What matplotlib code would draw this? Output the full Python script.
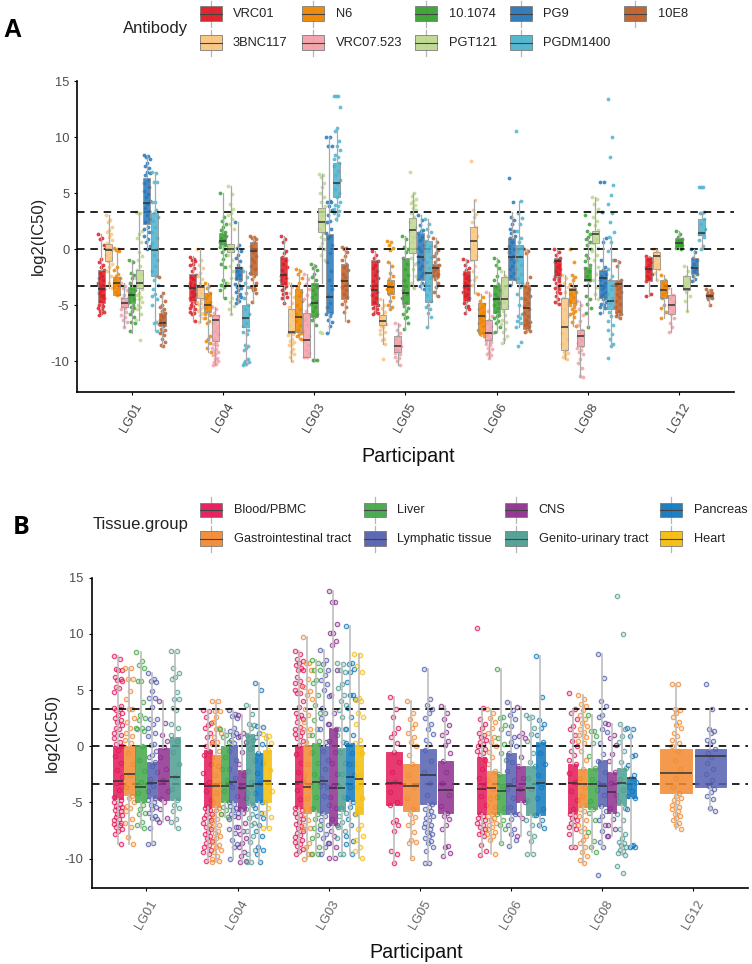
import matplotlib
matplotlib.use('Agg')
import matplotlib.pyplot as plt

plt.rcParams['font.family'] = ['Liberation Sans', 'DejaVu Sans']
plt.rcParams['axes.unicode_minus'] = False

participants = ['LG01', 'LG04', 'LG03', 'LG05', 'LG06', 'LG08', 'LG12']

antibodies = ['VRC01', '3BNC117', 'N6', 'VRC07.523', '10.1074', 'PGT121', 'PG9', 'PGDM1400', '10E8']
antibody_colors = ['#DC1C24', '#FAC57F', '#EE8500', '#F3A1A9', '#38A132', '#BFD88F', '#2877B7', '#4FB3CE', '#BE5F2A']

tissues = ['Blood/PBMC', 'Gastrointestinal tract', 'Liver', 'Lymphatic tissue', 'CNS',
           'Genito-urinary tract', 'Pancreas', 'Heart']
tissue_colors = ['#E21A5A', '#F28A32', '#43A84A', '#5561B0', '#8E3090', '#4F9E92', '#1279BE', '#F5BE0A']

# * box stats: whisker low, q1, median, q3, whisker high
a_lg01_box = [(-5.9, -4.8, -3.6, -1.9, 1.3), (-3.5, -1.1, -0.1, 0.45, 3.0), (-4.1, -4.1, -3.0, -2.5, 0.1),
              (-7.0, -5.2, -4.8, -4.4, -3.0), (-7.5, -4.8, -4.1, -3.4, -1.0), (-6.3, -3.5, -3.0, -1.9, 3.2),
              (0.0, 2.2, 4.1, 6.3, 8.4), (-7.3, -2.4, -0.1, 3.2, 6.9), (-8.7, -6.9, -6.6, -5.7, -4.0)]
a_lg04_box = [(-6.4, -4.6, -3.5, -2.2, -0.6), (-6.5, -4.4, -3.4, -3.3, 0.0), (-9.2, -5.6, -5.0, -3.9, -3.0),
              (-10.4, -8.2, -6.3, -5.9, -5.2), (-4.4, 0.4, 0.7, 1.4, 5.0), (-5.8, -0.3, 0.0, 0.45, 5.6),
              (-4.8, -2.8, -1.7, -1.6, 2.4), (-10.4, -7.0, -6.2, -5.0, -2.0), (-4.7, -2.3, -0.2, 0.6, 1.2)]
a_lg03_box = [(-4.8, -3.2, -2.3, -0.7, 1.2), (-10.0, -7.5, -7.4, -5.4, -3.0), (-8.0, -7.4, -6.1, -3.6, -1.8),
              (-9.6, -9.6, -8.1, -5.7, -2.2), (-10.0, -6.1, -4.8, -3.0, -1.3), (-3.0, 1.5, 2.4, 3.65, 6.7),
              (-7.5, -5.7, -4.3, 1.3, 10.0), (2.5, 4.6, 5.9, 7.7, 10.8), (-6.4, -4.5, -2.9, -1.3, 0.2)]
a_lg05_box = [(-5.8, -5.0, -3.7, -1.0, -0.2), (-8.5, -6.8, -6.4, -5.9, -4.5), (-5.4, -4.0, -3.4, -2.8, -1.2),
              (-10.4, -9.2, -8.7, -7.8, -6.6), (-7.1, -4.9, -3.9, -0.8, 1.2), (-3.5, -0.4, 1.66, 2.76, 5.0),
              (-3.6, -2.8, -0.75, 1.4, 3.0), (-7.0, -4.7, -2.1, 0.75, 2.7), (-4.2, -2.5, -1.7, -1.3, 1.0)]
a_lg06_box = [(-5.7, -4.6, -3.3, -2.0, -0.9), (-3.9, -1.0, 0.75, 2.0, 4.4), (-7.8, -7.5, -6.0, -4.8, -4.0),
              (-9.7, -8.1, -7.5, -6.3, -3.8), (-7.4, -5.7, -4.5, -3.2, -0.8), (-8.4, -5.4, -4.5, -2.5, -2.0),
              (-3.2, -2.8, -0.7, 1.0, 3.3), (-7.0, -3.0, -0.75, 0.4, 4.3), (-7.4, -7.1, -5.3, -3.2, 0.0)]
a_lg08_box = [(-4.9, -2.4, -1.1, -0.8, 0.0), (-9.8, -9.0, -7.0, -4.4, -2.3), (-6.9, -4.8, -3.7, -3.5, -2.3),
              (-11.4, -8.7, -7.8, -7.2, -4.6), (-7.0, -2.9, -2.8, -1.6, 1.0), (-4.5, 0.55, 1.3, 1.6, 4.6),
              (-5.7, -4.4, -2.6, -1.9, 1.0), (-8.7, -5.4, -4.6, -2.8, 1.1), (-6.2, -5.7, -3.1, -2.8, -1.0)]
a_lg12_box = [(-4.2, -2.9, -1.8, -0.7, -0.6), (-2.8, -1.8, -0.6, -0.25, 0.0), (-6.2, -4.4, -3.7, -2.8, -2.3),
              (-7.4, -5.8, -5.0, -4.1, -3.5), (0.0, 0.2, 0.55, 0.95, 1.6), (-5.5, -3.7, -3.6, -2.4, -1.5),
              (-2.9, -2.2, -1.7, -0.8, 0.0), (0.0, 1.25, 1.4, 2.7, 3.3), (-5.0, -4.4, -4.2, -3.9, -3.6)]

a_lg01_pts = [
    [1.3, 1.0, 0.9, 0.4, -0.9, -1.2, -1.4, -1.6, -1.9, -2.1, -2.4, -2.6, -2.8, -3.0, -3.2, -3.4, -3.6, -3.7, -3.9, -4.1, -4.2, -4.4, -4.6, -4.8, -5.0, -5.1, -5.3, -5.4, -5.5, -5.6, -5.7, -5.9],
    [3.0, 2.6, 2.4, 2.0, 1.7, 1.5, 1.3, 1.1, 0.8, 0.5, 0.3, 0.1, -0.2, -0.5, -0.8, -1.1, -1.3, -1.6, -2.0, -2.4, -3.0, -3.5],
    [0.1, 0.0, -0.1, -0.2, -1.6, -1.9, -2.2, -2.4, -2.6, -2.8, -3.0, -3.1, -3.3, -3.4, -3.6, -3.8, -4.0, -4.1],
    [-3.0, -3.3, -3.5, -3.7, -4.1, -4.4, -4.6, -4.8, -4.9, -5.1, -5.3, -5.4, -5.6, -5.9, -6.1, -6.3, -6.5, -7.0],
    [-1.0, -1.2, -2.1, -2.3, -2.6, -3.0, -3.3, -3.5, -3.7, -3.9, -4.1, -4.3, -4.5, -4.7, -5.0, -5.2, -5.3, -5.5, -5.8, -6.1, -6.5, -6.6, -7.3],
    [3.3, 3.2, 3.2, 1.6, 1.3, 1.0, 0.6, -0.3, -0.6, -1.0, -1.5, -1.9, -2.2, -2.6, -3.0, -3.3, -3.6, -3.9, -4.1, -4.3, -4.5, -4.7, -5.0, -5.2, -5.4, -5.8, -6.3, -8.1],
    [8.4, 8.3, 8.2, 8.0, 7.7, 7.4, 7.2, 6.9, 6.8, 6.6, 6.2, 5.9, 5.5, 5.2, 4.9, 4.6, 4.3, 4.0, 3.7, 3.4, 3.0, 2.7, 2.4, 2.0, 1.8, 1.5, 1.2, 0.9, 0.6, 0.3, 0.0],
    [6.9, 6.8, 6.0, 6.0, 4.2, 4.2, 3.5, 3.2, 2.9, 2.5, 2.0, 1.5, 1.0, 0.5, 0.0, -0.5, -1.0, -1.5, -2.0, -2.4, -2.8, -3.2, -3.6, -4.0, -4.2, -4.5, -5.0, -6.5, -6.6, -7.3],
    [-2.5, -3.9, -4.2, -4.6, -5.0, -5.2, -5.4, -5.5, -5.7, -5.9, -6.1, -6.3, -6.5, -6.7, -6.9, -7.1, -7.2, -7.4, -7.5, -7.7, -8.0, -8.3, -8.6, -8.7]]
a_lg04_pts = [
    [-0.7, -0.9, -1.0, -1.1, -1.3, -1.4, -1.7, -2.0, -2.3, -2.5, -2.7, -3.0, -3.2, -3.4, -3.6, -3.8, -4.0, -4.2, -4.4, -4.6, -4.7, -4.8, -5.0, -5.1, -5.3, -5.4, -5.6, -5.7, -5.8, -6.4],
    [0.0, -1.0, -1.4, -1.7, -2.1, -2.4, -2.7, -3.0, -3.3, -3.6, -3.9, -4.2, -4.5, -4.7, -4.8, -5.0, -5.2, -5.4, -5.5, -5.7, -5.9, -6.2, -6.5],
    [-3.0, -3.3, -3.5, -3.9, -4.1, -4.4, -4.7, -4.9, -5.1, -5.3, -5.6, -5.8, -5.9, -6.2, -6.4, -6.6, -7.8, -8.0, -8.2, -8.4, -8.8, -9.2],
    [-5.2, -5.4, -5.7, -6.0, -6.3, -6.6, -7.0, -7.3, -7.6, -8.0, -8.3, -8.5, -8.6, -8.8, -8.9, -9.1, -9.2, -9.4, -9.5, -9.7, -9.8, -10.0, -10.1, -10.3, -10.4],
    [5.0, 2.9, 2.5, 2.2, 2.0, 1.7, 1.5, 1.4, 1.2, 1.0, 0.8, 0.6, 0.4, 0.2, 0.0, -0.3, -0.5, -0.9, -1.3, -1.6, -2.8, -3.0, -3.2, -3.4, -3.7, -4.4],
    [5.6, 4.9, 4.0, 3.6, 3.2, 3.0, 2.7, 2.2, 1.8, 0.4, 0.2, 0.0, -0.2, -0.5, -1.0, -1.5, -2.0, -2.6, -3.0, -4.4, -4.7, -5.1, -5.4, -5.8],
    [2.4, 0.4, 0.1, -0.2, -0.5, -0.8, -1.1, -1.4, -1.7, -2.0, -2.3, -2.6, -2.8, -3.1, -3.2, -3.4, -3.5, -3.7, -3.8, -4.0, -4.2, -4.3, -4.5, -4.6, -4.8],
    [-2.0, -2.5, -3.0, -3.4, -3.9, -4.4, -5.0, -5.4, -5.8, -6.2, -6.6, -6.9, -7.2, -7.4, -7.6, -8.6, -8.7, -8.8, -9.0, -9.8, -10.0, -10.1, -10.2, -10.3, -10.4],
    [1.2, 1.1, 1.0, 0.9, 0.6, 0.3, 0.0, -0.3, -0.6, -0.9, -1.2, -1.5, -1.8, -2.1, -2.4, -2.7, -3.0, -3.3, -3.4, -3.6, -3.7, -3.9, -4.7]]
a_lg03_pts = [
    [1.2, 0.9, 0.6, -0.2, -0.4, -0.7, -1.0, -1.3, -1.6, -1.9, -2.2, -2.4, -2.6, -2.8, -3.0, -3.2, -3.3, -3.5, -3.7, -3.9, -4.0, -4.3, -4.4, -4.8],
    [-3.0, -3.4, -3.9, -4.3, -4.8, -5.2, -5.5, -5.9, -6.3, -6.8, -7.2, -7.4, -7.6, -7.7, -8.0, -8.2, -8.3, -8.5, -8.6, -8.9, -9.2, -9.4, -9.6, -10.0],
    [-1.8, -2.0, -2.2, -2.6, -3.0, -3.4, -3.8, -4.2, -4.6, -5.0, -5.4, -5.8, -6.1, -6.4, -6.8, -7.2, -7.5, -7.6, -7.8, -8.0],
    [-2.2, -2.7, -3.1, -3.6, -4.1, -4.5, -5.0, -5.5, -5.9, -6.3, -6.8, -7.3, -7.8, -8.2, -8.6, -9.0, -9.3, -9.6, -9.6],
    [-1.3, -1.5, -1.7, -1.9, -2.2, -2.5, -2.8, -3.1, -3.4, -3.7, -4.0, -4.3, -4.6, -4.9, -5.2, -5.5, -5.8, -6.1, -6.3, -6.8, -9.9, -9.9, -9.9],
    [6.7, 6.6, 6.4, 5.9, 5.5, 5.0, 4.6, 4.2, 3.8, 3.4, 3.0, 2.6, 2.2, 1.8, 1.4, 1.1, 0.9, 0.5, 0.2, 0.0, -0.5, -1.0, -7.4, -7.5],
    [10.0, 10.0, 9.2, 9.2, 4.3, 4.2, 4.2, 3.8, 3.5, 3.0, 2.5, 2.4, 1.8, 1.4, 1.2, 1.0, 0.4, -0.4, -1.2, -2.0, -2.8, -3.6, -4.2, -4.8, -5.2, -5.7, -5.8, -6.0, -6.3, -6.5, -6.9, -7.5],
    [13.7, 13.7, 13.7, 12.7, 10.8, 10.5, 9.6, 9.2, 8.8, 8.4, 8.2, 8.0, 7.7, 7.4, 7.0, 6.6, 6.2, 5.8, 5.4, 5.0, 4.6, 4.2, 3.9, 3.8, 3.6, 3.4, 3.2, 3.0, 2.7],
    [0.2, 0.1, 0.0, -0.3, -0.6, -1.0, -1.3, -1.6, -1.9, -2.2, -2.5, -2.8, -3.1, -3.4, -3.7, -4.0, -4.3, -4.6, -4.9, -5.2, -5.6, -6.4]]
a_lg05_pts = [
    [-0.2, -0.5, -0.8, -1.1, -1.4, -1.7, -2.0, -2.3, -2.6, -2.9, -3.2, -3.5, -3.8, -4.1, -4.4, -4.7, -5.0, -5.1, -5.3, -5.4, -5.6, -5.7, -5.8],
    [-4.5, -5.0, -5.3, -5.6, -5.9, -6.1, -6.3, -6.5, -6.7, -6.9, -7.0, -7.2, -7.4, -7.6, -8.0, -8.1, -8.5, -9.8],
    [0.7, 0.6, 0.4, 0.1, -0.1, -1.2, -1.5, -2.1, -2.4, -2.7, -3.0, -3.2, -3.4, -3.6, -3.8, -4.0, -4.3, -4.6, -5.0, -5.2, -5.4],
    [-6.6, -6.8, -7.2, -7.5, -7.8, -8.0, -8.3, -8.5, -8.7, -8.9, -9.1, -9.3, -9.4, -9.6, -9.7, -10.0, -10.4],
    [1.2, 0.9, 0.2, 0.0, -0.3, -0.8, -1.3, -1.8, -2.3, -2.8, -3.3, -3.7, -4.0, -4.4, -4.8, -5.1, -5.3, -5.5, -5.8, -6.1, -6.2, -6.6, -7.1],
    [6.9, 5.0, 4.7, 4.5, 4.3, 4.1, 3.9, 3.7, 3.5, 3.2, 2.9, 2.4, 2.0, 1.6, 1.1, 0.6, 0.2, -0.3, -0.8, -1.3, -1.8, -2.4, -3.0, -3.5],
    [3.0, 2.6, 2.1, 1.7, 1.6, 1.4, 1.1, 0.8, 0.4, 0.1, -0.2, -0.6, -0.9, -1.2, -1.5, -1.8, -2.1, -2.4, -2.7, -3.0, -3.3, -3.6],
    [2.7, 2.2, 1.8, 1.5, 1.2, 0.7, 0.3, -0.2, -0.7, -1.2, -1.7, -2.1, -2.6, -3.1, -3.6, -4.1, -4.6, -5.0, -5.2, -5.4, -5.7, -6.1, -7.0],
    [1.0, 0.6, 0.3, -0.1, -0.4, -0.6, -0.9, -1.2, -1.4, -1.6, -1.8, -2.0, -2.2, -2.4, -2.5, -2.7, -3.0, -3.4, -3.8, -4.2]]
a_lg06_pts = [
    [-0.9, -1.1, -1.4, -1.7, -1.9, -2.2, -2.4, -2.6, -2.8, -3.0, -3.2, -3.4, -3.6, -3.8, -4.0, -4.2, -4.4, -4.6, -4.8, -5.1, -5.2, -5.4, -5.7],
    [7.9, 4.4, 3.5, 3.1, 2.9, 2.4, 2.0, 1.6, 1.2, 0.8, 0.4, -0.1, -0.6, -1.0, -1.5, -2.0, -2.5, -2.8, -3.2, -3.9],
    [-4.0, -4.3, -4.6, -4.9, -5.2, -5.4, -5.6, -5.8, -6.0, -6.2, -6.4, -6.6, -6.9, -7.2, -7.5, -7.6, -7.8],
    [-3.8, -4.1, -5.5, -6.0, -6.3, -6.6, -6.9, -7.2, -7.5, -7.7, -8.0, -8.2, -8.3, -8.5, -8.6, -8.8, -8.9, -9.2, -9.4, -9.5, -9.7],
    [-0.8, -1.1, -1.4, -1.7, -2.4, -2.8, -3.1, -3.4, -3.7, -4.0, -4.3, -4.5, -4.8, -5.0, -5.3, -5.6, -5.9, -6.0, -6.2, -6.4, -6.6, -7.0, -7.4],
    [-2.0, -2.4, -2.8, -3.2, -3.5, -3.9, -4.3, -4.7, -5.1, -5.5, -5.9, -6.3, -6.5, -6.7, -7.1, -7.4, -7.8, -8.0, -8.4],
    [6.3, 4.2, 2.9, 2.6, 2.2, 1.8, 1.6, 1.4, 1.2, 1.0, 0.6, 0.3, 0.0, -0.3, -0.6, -0.9, -1.2, -1.5, -1.8, -2.1, -2.4, -2.7, -3.2],
    [10.5, 4.3, 3.2, 2.8, 2.2, 1.6, 1.0, 0.6, 0.2, -0.2, -0.6, -1.0, -1.4, -1.8, -2.2, -2.6, -3.0, -3.4, -4.0, -4.4, -5.0, -5.8, -6.0, -6.2, -6.4, -6.6, -7.0, -8.3, -8.7],
    [0.0, -0.2, -0.4, -2.5, -3.0, -3.3, -3.6, -3.9, -4.2, -4.5, -4.8, -5.1, -5.4, -5.7, -6.0, -6.3, -6.5, -6.6, -6.8, -6.9, -7.1, -7.3, -7.4]]
a_lg08_pts = [
    [0.0, -0.3, -0.5, -0.8, -1.0, -1.2, -1.4, -1.6, -1.8, -2.0, -2.2, -2.4, -2.6, -2.7, -2.9, -3.0, -3.2, -3.3, -3.5, -3.6, -3.8, -3.9, -4.2, -4.5, -4.7, -4.9],
    [-2.3, -2.6, -3.0, -3.4, -3.8, -4.4, -4.9, -5.4, -6.0, -6.5, -7.0, -7.5, -8.0, -8.5, -9.0, -9.2, -9.3, -9.5, -9.6, -9.8],
    [0.0, -1.2, -2.3, -2.5, -2.8, -3.1, -3.4, -3.6, -3.8, -4.0, -4.3, -4.6, -4.9, -5.0, -5.2, -5.4, -5.5, -5.7, -5.8, -6.1, -6.5, -6.9],
    [-4.6, -5.0, -5.4, -5.9, -6.4, -6.8, -7.2, -7.5, -7.7, -7.9, -8.1, -8.4, -8.7, -8.8, -9.0, -9.2, -9.4, -9.8, -10.2, -10.6, -11.3, -11.4],
    [3.0, 2.2, 1.6, 1.3, 1.1, 0.9, 0.6, 0.4, 0.0, -0.5, -0.8, -1.1, -1.4, -1.7, -2.0, -2.4, -2.8, -3.2, -4.2, -4.5, -4.9, -5.3, -5.7, -7.0],
    [4.6, 4.5, 4.0, 3.6, 3.3, 2.9, 2.5, 2.1, 1.7, 1.3, 0.9, 0.5, 0.1, -0.2, -0.5, -1.0, -1.6, -2.2, -2.8, -3.4, -4.0, -4.5],
    [6.0, 6.0, 3.3, 1.0, 0.6, -1.0, -1.6, -1.9, -2.2, -2.4, -2.6, -2.8, -3.0, -3.2, -3.4, -3.6, -3.8, -4.0, -4.2, -4.4, -4.5, -4.7, -4.9, -5.0, -5.2, -5.3, -5.7],
    [13.4, 10.0, 8.2, 5.7, 4.8, 4.0, 3.2, 2.4, 1.5, 1.1, 0.6, -0.2, -1.0, -1.8, -2.4, -2.8, -3.2, -3.6, -4.0, -4.4, -4.8, -5.2, -5.6, -6.0, -6.4, -6.8, -7.2, -7.6, -8.0, -8.5, -8.7, -9.7],
    [-1.0, -1.2, -1.5, -2.8, -3.0, -3.2, -3.4, -3.6, -3.8, -4.0, -4.3, -4.6, -4.9, -5.2, -5.5, -5.7, -5.8, -5.9, -6.0, -6.2]]
a_lg12_pts = [
    [-0.6, -0.8, -1.0, -1.2, -1.4, -1.6, -1.8, -2.0, -2.2, -2.4, -2.6, -2.9, -4.0, -4.2],
    [0.0, -0.2, -0.4, -0.6, -0.8, -1.0, -1.3, -1.5, -1.8, -2.1, -2.8],
    [-2.3, -2.8, -3.0, -3.2, -3.4, -3.6, -3.8, -4.0, -4.2, -4.4, -5.0, -5.3, -5.6, -6.2],
    [-3.5, -4.1, -4.4, -4.7, -5.0, -5.2, -5.5, -5.8, -6.2, -6.6, -7.0, -7.4],
    [1.6, 1.3, 1.1, 0.9, 0.8, 0.7, 0.6, 0.5, 0.4, 0.3, 0.2, 0.1, 0.0],
    [-1.5, -2.0, -2.4, -2.7, -3.0, -3.3, -3.6, -3.8, -4.2, -4.6, -5.5],
    [0.0, -0.3, -0.8, -1.0, -1.3, -1.6, -1.8, -2.0, -2.2, -2.4, -2.7, -2.9],
    [5.5, 5.5, 5.5, 3.3, 3.2, 3.2, 2.7, 2.2, 1.8, 1.5, 1.4, 1.3, 1.1, 0.8, 0.3, 0.0],
    [-3.6, -3.7, -3.8, -3.9, -4.0, -4.1, -4.2, -4.3, -4.4, -4.5, -5.0]]

a_boxes = [a_lg01_box, a_lg04_box, a_lg03_box, a_lg05_box, a_lg06_box, a_lg08_box, a_lg12_box]
a_points = [a_lg01_pts, a_lg04_pts, a_lg03_pts, a_lg05_pts, a_lg06_pts, a_lg08_pts, a_lg12_pts]
a_groups = [list(range(9))] * 7

# * panel B: which tissues exist per participant
b_groups = [[0, 1, 2, 3, 4, 5], [0, 1, 2, 3, 4, 5, 6, 7], [0, 1, 2, 3, 4, 5, 6, 7], [0, 1, 3, 4],
            [0, 1, 2, 3, 4, 5, 6], [0, 1, 2, 3, 4, 5, 6], [1, 3]]

b_lg01_box = [(-8.7, -4.7, -3.1, 0.0, 8.0), (-8.7, -4.3, -2.5, 0.0, 7.0), (-7.3, -5.0, -3.6, 0.15, 8.4),
              (-8.7, -4.6, -3.3, -1.4, 6.5), (-6.7, -4.75, -3.1, -0.15, 4.0), (-7.3, -4.8, -2.7, 0.85, 8.5)]
b_lg04_box = [(-10.2, -5.4, -3.5, -0.3, 3.2), (-10.3, -5.4, -3.5, -0.75, 4.0), (-6.3, -5.0, -3.5, 0.0, 1.5),
              (-10.0, -5.0, -3.2, 0.15, 3.2), (-10.3, -5.7, -3.7, -2.1, 2.8), (-10.3, -5.2, -3.5, 1.1, 3.7),
              (-10.3, -5.0, -3.4, -0.6, 5.6), (-7.3, -5.0, -3.1, -0.3, 1.1)]
b_lg03_box = [(-9.6, -5.5, -3.2, 0.0, 8.5), (-10.0, -5.9, -3.6, 0.1, 9.7), (-9.6, -5.75, -3.2, 0.25, 7.7),
              (-9.6, -5.9, -3.1, 0.0, 8.6), (-9.9, -7.0, -3.7, 1.6, 13.8), (-9.6, -5.75, -3.7, -0.15, 7.4),
              (-9.6, -4.85, -2.75, 0.25, 10.7), (-9.9, -6.0, -2.9, 0.1, 8.2)]
b_lg05_box = [(-10.4, -5.2, -3.3, -0.5, 4.4), (-9.9, -5.8, -3.5, -1.55, 4.0),
              (-10.4, -5.1, -2.55, -0.25, 6.9), (-9.8, -5.9, -3.9, -1.3, 3.6)]
b_lg06_box = [(-9.7, -6.0, -3.8, -1.0, 3.4), (-9.6, -6.0, -3.7, -2.2, 3.3), (-8.6, -6.0, -4.0, -2.5, 6.9),
              (-8.9, -6.0, -3.5, -0.6, 3.9), (-8.0, -5.0, -3.9, -1.8, 3.5), (-9.6, -6.1, -3.7, -1.8, 2.8),
              (-7.3, -6.1, -3.3, 0.4, 8.0)]
b_lg08_box = [(-9.0, -5.9, -3.3, -1.6, 3.3), (-10.4, -5.4, -3.4, -2.0, 4.6), (-9.4, -5.6, -3.4, -1.9, 2.8),
              (-9.0, -5.3, -3.5, -1.25, 8.2), (-8.0, -5.9, -4.1, -2.3, 2.0), (-9.7, -5.2, -3.3, -1.9, 2.0),
              (-9.0, -4.6, -2.85, -2.8, 1.6)]
b_lg12_box = [(-7.4, -4.2, -2.4, -0.2, 5.5), (-5.8, -3.6, -0.85, -0.25, 3.3)]

b_lg01_pts = [
    [8.0, 7.8, 6.9, 6.8, 6.8, 6.2, 6.0, 5.9, 5.8, 5.3, 5.2, 4.8, 3.6, 3.4, 3.3, 3.2, 3.0, 2.8, 2.5, 2.3, 2.2, 1.9, 1.6, 1.5, 1.2, 1.0, 0.7, 0.4, 0.2, 0.0, -0.3, -0.9, -1.5, -2.1, -2.7, -3.3, -3.9, -4.5, -4.8, -5.0, -5.1, -5.3, -5.4, -5.5, -5.7, -5.8, -6.0, -6.1, -6.3, -6.5, -6.6, -6.8, -6.9, -7.0, -7.2, -7.4, -7.5, -7.8, -8.7],
    [7.0, 7.0, 6.0, 6.0, 4.9, 4.2, 3.3, 3.3, 2.5, 2.2, 1.6, 1.2, 0.9, 0.6, 0.3, -0.6, -1.6, -2.6, -3.6, -4.4, -4.6, -5.0, -5.3, -5.5, -5.8, -6.5, -6.8, -7.2, -8.1, -8.7],
    [8.4, 7.6, 7.2, 7.0, 5.8, 5.8, 3.9, 2.8, 2.5, 2.3, 1.6, 1.5, 1.4, 1.6, 0.0, -1.2, -2.2, -3.2, -4.2, -5.2, -5.6, -5.9, -6.0, -6.7, -7.0, -7.3],
    [6.5, 6.0, 5.8, 5.7, 4.9, 4.3, 4.3, 3.5, 2.4, 2.4, 2.0, 1.6, 1.2, 0.9, 0.2, 0.1, -0.4, -0.8, -1.0, -1.4, -1.8, -2.3, -2.9, -3.5, -4.0, -4.6, -4.8, -5.0, -5.2, -5.4, -5.6, -5.9, -6.2, -6.4, -6.5, -7.3, -8.6, -8.7],
    [4.0, 2.1, 1.0, 0.5, -0.1, -1.0, -2.0, -3.0, -4.0, -4.7, -5.0, -5.6, -6.4, -6.7],
    [8.5, 8.5, 7.0, 6.5, 6.2, 6.0, 4.8, 4.2, 4.2, 3.4, 3.2, 2.0, 1.6, 1.0, 0.5, -0.5, -1.6, -2.7, -3.8, -4.8, -5.2, -5.5, -5.8, -6.5, -6.7, -7.3]]
b_lg04_pts = [
    [3.2, 3.1, 2.6, 2.1, 1.9, 1.6, 1.2, 0.8, 0.4, 0.0, -0.4, -0.8, -1.6, -2.4, -3.2, -4.0, -4.8, -5.4, -5.5, -5.7, -5.8, -6.0, -6.1, -6.3, -6.4, -6.6, -6.8, -7.0, -7.2, -7.4, -7.6, -7.8, -8.0, -8.2, -8.4, -8.6, -8.8, -9.0, -9.2, -9.4, -9.6, -10.2],
    [4.0, 4.0, 3.1, 3.1, 2.6, 2.2, 1.6, 1.5, 1.2, 0.8, 0.4, 0.2, -0.4, -1.0, -1.8, -2.6, -3.4, -4.2, -5.0, -5.5, -5.7, -6.0, -6.2, -6.5, -6.7, -7.0, -7.2, -7.5, -7.7, -8.0, -8.2, -8.5, -8.8, -9.0, -9.2, -9.4, -9.8, -10.0, -10.2, -10.3],
    [1.5, 1.0, 0.8, 0.4, -1.0, -2.0, -3.0, -4.0, -5.0, -5.4, -5.7, -6.0, -6.3],
    [3.2, 2.9, 2.7, 2.5, 1.6, 1.4, 1.2, 1.0, 0.8, 0.6, 0.3, -0.4, -1.2, -2.0, -2.8, -3.6, -4.4, -5.1, -5.3, -5.5, -5.7, -5.9, -6.0, -6.2, -6.5, -7.2, -7.4, -7.7, -8.3, -8.7, -9.0, -10.0],
    [2.8, 1.2, 0.9, 0.4, -0.5, -1.6, -2.6, -3.6, -4.6, -5.6, -5.9, -6.3, -6.8, -7.2, -7.5, -7.8, -8.2, -8.6, -9.0, -9.4, -9.8, -10.2, -10.3],
    [3.7, 2.9, 2.0, 1.9, 1.6, 1.0, 0.6, -0.2, -1.2, -2.2, -3.2, -4.2, -5.2, -5.6, -6.0, -6.4, -6.8, -7.0, -7.5, -8.0, -8.5, -9.2, -9.6, -10.3, -10.3],
    [5.6, 5.0, 1.8, 1.7, 1.2, 0.8, 0.2, -0.6, -1.5, -2.4, -3.3, -4.2, -5.0, -5.5, -5.9, -6.2, -6.4, -7.0, -7.5, -8.0, -9.0, -9.2, -9.6, -10.3],
    [1.1, 0.9, 0.7, 0.3, -0.3, -1.2, -2.1, -3.1, -4.0, -5.0, -5.5, -5.9, -6.3, -7.3, -7.3]]
b_lg03_pts = [
    [8.5, 8.2, 7.8, 7.6, 7.4, 7.2, 7.0, 6.8, 6.8, 6.2, 5.8, 5.6, 5.4, 5.0, 4.7, 4.7, 4.0, 3.5, 3.0, 2.8, 2.6, 2.4, 2.2, 1.7, 1.5, 1.3, 1.1, 0.9, 0.7, 0.5, 0.1, -0.7, -1.5, -2.3, -3.1, -3.9, -4.7, -5.5, -5.7, -5.9, -6.1, -6.3, -6.5, -6.7, -6.9, -7.1, -7.3, -7.5, -7.7, -7.9, -8.1, -8.3, -8.5, -8.7, -8.9, -9.1, -9.3, -9.6],
    [9.7, 7.4, 7.4, 6.8, 6.0, 5.3, 4.9, 4.6, 4.2, 3.3, 2.8, 2.2, 1.5, 1.5, 1.0, 0.4, -0.6, -1.6, -2.6, -3.6, -4.6, -5.6, -6.0, -6.6, -7.0, -7.3, -7.4, -8.6, -9.0, -9.6, -9.6, -10.0],
    [7.7, 7.4, 6.8, 6.8, 5.9, 5.6, 4.6, 3.7, 3.0, 2.3, 1.5, 1.0, 0.5, -0.5, -1.5, -2.5, -3.5, -4.5, -5.5, -6.0, -6.5, -7.0, -7.3, -7.9, -8.2, -9.0, -9.6, -9.6],
    [8.6, 7.7, 7.3, 6.8, 6.3, 5.9, 5.5, 5.0, 4.5, 3.4, 3.0, 2.5, 2.0, 1.5, 0.4, -0.4, -1.2, -2.0, -2.8, -3.6, -4.4, -5.2, -5.9, -6.2, -6.6, -7.0, -7.4, -7.8, -8.2, -8.6, -9.0, -9.6],
    [13.8, 12.8, 12.8, 10.9, 10.1, 10.1, 9.4, 9.0, 6.8, 4.6, 3.0, 2.0, 1.5, 0.5, -0.5, -1.5, -2.5, -3.5, -4.5, -5.5, -6.5, -7.0, -7.5, -8.0, -8.6, -9.0, -9.9, -9.9],
    [7.4, 7.3, 6.8, 6.6, 5.5, 5.2, 4.6, 4.0, 3.7, 3.2, 2.6, 1.5, 1.5, 1.0, 0.4, -0.5, -1.5, -2.5, -3.5, -4.5, -5.5, -5.9, -6.2, -6.7, -7.2, -7.5, -8.2, -9.6, -9.6],
    [10.7, 7.4, 7.3, 6.9, 6.6, 5.7, 4.6, 4.6, 4.2, 3.4, 2.6, 1.5, 1.0, 0.3, -0.6, -1.6, -2.6, -3.6, -4.6, -5.0, -5.4, -6.0, -6.5, -7.0, -8.0, -8.4, -8.7, -9.6],
    [8.2, 8.1, 7.1, 6.6, 4.3, 4.1, 4.0, 3.0, 2.6, 2.0, 0.6, 0.3, -0.6, -1.6, -2.6, -3.6, -4.6, -5.6, -6.0, -7.0, -7.4, -8.0, -8.3, -9.0, -9.3, -9.9]]
b_lg05_pts = [
    [4.4, 3.3, 2.6, 1.6, 1.2, 0.8, 0.3, -0.5, -1.4, -2.3, -3.2, -4.1, -5.0, -5.2, -6.6, -6.7, -7.0, -7.5, -9.3, -9.6, -10.4],
    [4.0, 3.0, 2.4, 2.0, 1.6, 1.2, 0.8, 0.4, 0.0, -0.8, -1.6, -2.6, -3.6, -4.6, -5.6, -6.0, -6.3, -6.7, -7.0, -7.6, -8.3, -8.5, -8.6, -9.9],
    [6.9, 4.2, 3.7, 3.3, 3.0, 2.5, 2.0, 1.5, 1.1, 0.6, 0.2, -0.3, -1.3, -2.3, -3.3, -4.3, -5.1, -5.4, -5.6, -5.8, -6.0, -6.2, -6.4, -6.6, -6.8, -7.0, -7.2, -7.4, -7.6, -7.8, -8.0, -8.2, -8.4, -8.6, -9.0, -9.3, -10.4, -10.4],
    [3.6, 3.0, 2.4, 1.9, 1.3, 1.0, 0.5, 0.1, -0.6, -1.3, -2.3, -3.3, -4.3, -5.3, -5.9, -6.2, -6.5, -7.0, -7.4, -8.9, -9.0, -9.5, -9.8]]
b_lg06_pts = [
    [10.5, 3.4, 2.4, 2.0, 1.6, 1.2, 1.0, 0.8, 0.6, 0.4, 0.2, 0.0, -0.2, -0.4, -0.6, -0.8, -1.2, -2.0, -2.8, -3.6, -4.4, -5.2, -6.0, -6.2, -6.4, -6.6, -6.8, -7.0, -7.2, -7.4, -7.6, -7.8, -8.0, -8.8, -9.3, -9.7],
    [3.3, 3.0, 2.5, 2.2, 1.6, 1.2, 0.8, 0.4, 0.0, -0.5, -1.0, -1.6, -2.2, -3.0, -3.8, -4.6, -5.4, -6.0, -6.2, -6.4, -6.6, -6.8, -7.0, -7.2, -7.4, -7.6, -7.8, -8.0, -8.3, -9.6],
    [6.9, 2.6, 2.5, 1.9, 1.5, 0.7, 0.2, -0.6, -1.2, -2.5, -3.5, -4.5, -5.5, -6.0, -6.6, -7.0, -7.4, -8.6],
    [3.9, 3.2, 2.8, 2.4, 1.8, 1.2, 0.8, 0.4, 0.0, -0.6, -1.4, -2.2, -3.0, -3.8, -4.6, -5.4, -6.0, -6.5, -7.0, -7.4, -7.8, -8.3, -8.9],
    [3.5, 1.2, 0.9, 0.7, -1.0, -1.8, -2.8, -3.8, -5.0, -6.0, -6.4, -8.0],
    [2.8, 2.6, 2.5, 1.6, 1.1, 0.5, -0.6, -1.4, -1.8, -2.8, -3.8, -4.8, -6.1, -6.6, -7.0, -7.7, -8.0, -8.4, -9.6, -9.6],
    [8.0, 4.4, 2.3, 2.0, 1.6, 1.0, 0.4, -0.6, -1.6, -2.6, -3.6, -4.6, -5.6, -6.1, -6.6, -7.0, -7.3]]
b_lg08_pts = [
    [4.7, 3.3, 3.0, 2.4, 1.8, 1.5, 1.0, 0.5, 0.0, -0.4, -0.8, -1.2, -1.6, -2.4, -3.2, -4.0, -4.8, -5.6, -6.0, -6.2, -6.4, -6.6, -6.8, -7.0, -7.2, -7.4, -7.8, -9.0, -9.0],
    [4.6, 4.2, 3.8, 3.6, 3.2, 2.8, 2.4, 2.1, 1.8, 1.5, 1.3, 1.0, 0.8, 0.5, 0.3, -0.4, -1.2, -2.0, -2.8, -3.6, -4.4, -5.2, -5.6, -5.8, -6.2, -6.6, -7.0, -7.3, -7.5, -8.0, -8.3, -8.6, -9.0, -9.4, -9.8, -10.1, -10.4],
    [2.8, 1.4, 1.4, 0.9, 0.3, -0.9, -1.9, -2.9, -3.9, -4.9, -5.6, -5.9, -6.6, -7.6, -8.4, -9.0, -9.4],
    [8.2, 6.1, 4.0, 3.6, 2.8, 2.6, 2.1, 1.5, 1.3, 0.3, -0.7, -1.3, -2.3, -3.3, -4.3, -5.3, -5.8, -6.2, -6.6, -7.0, -7.5, -8.0, -8.5, -9.0, -11.5],
    [2.0, 1.0, 0.7, 0.1, -0.7, -1.3, -2.3, -3.3, -4.3, -5.5, -6.5, -7.0, -7.4, -8.0],
    [13.4, 10.0, 2.0, 1.5, 0.9, 0.4, -0.4, -1.4, -1.9, -2.9, -3.9, -4.9, -5.5, -6.0, -6.6, -7.4, -7.8, -8.2, -8.5, -8.6, -8.8, -9.0, -9.2, -9.3, -9.5, -9.7, -10.7, -11.3],
    [1.6, 1.5, 0.9, -0.8, -0.9, -1.7, -2.6, -2.8, -3.2, -3.6, -4.0, -4.4, -4.6, -5.6, -8.8, -9.0, -9.0, -8.9]]
b_lg12_pts = [
    [5.5, 5.5, 3.3, 3.2, 3.0, 2.6, 2.2, 1.9, 1.6, 1.2, 0.9, 0.6, 0.3, 0.0, -0.4, -1.2, -2.0, -2.8, -3.6, -4.2, -4.4, -4.6, -4.8, -5.0, -5.2, -5.4, -5.6, -5.8, -6.0, -6.2, -6.4, -6.6, -6.8, -7.0, -7.4],
    [5.5, 3.3, 1.5, 1.4, 1.2, 0.6, 0.5, 0.2, -0.2, -0.6, -1.0, -1.5, -2.0, -2.5, -3.0, -3.5, -3.8, -4.1, -4.4, -4.7, -5.5, -5.8]]

b_boxes = [b_lg01_box, b_lg04_box, b_lg03_box, b_lg05_box, b_lg06_box, b_lg08_box, b_lg12_box]
b_points = [b_lg01_pts, b_lg04_pts, b_lg03_pts, b_lg05_pts, b_lg06_pts, b_lg08_pts, b_lg12_pts]

cutoffs = [-3.32, 0, 3.32]
jitter_cycle = [-0.9, 0.35, -0.3, 0.8, 0.05, -0.65, 0.55, -0.1, 0.95, -0.45, 0.2, -0.8, 0.65]

W, H = 752, 964
fig = plt.figure(figsize=(W / 100, H / 100), dpi=100)


def make_axes(left, right, top, bottom):
    return fig.add_axes([left / W, 1 - bottom / H, (right - left) / W, (bottom - top) / H])


def draw_panel(ax, boxes, points, groups, colors, jitter, style, ybottom, label_color, xpad, ypad):
    for i in range(len(participants)):
        n = len(groups[i])
        step = 0.75 / n
        for j, g in enumerate(groups[i]):
            xc = i + (j - (n - 1) / 2) * step
            ys = points[i][j]
            xs = [xc + jitter_cycle[k % len(jitter_cycle)] * jitter for k in range(len(ys))]
            if style == 'dot':
                ax.scatter(xs, ys, s=7.5, color=colors[g], alpha=0.85, linewidths=0, zorder=2)
            else:
                ax.scatter(xs, ys, s=10, facecolors=colors[g] + '38', edgecolors=colors[g] + 'C8',
                           linewidths=0.85, zorder=2)
            lo, q1, med, q3, hi = boxes[i][j]
            res = ax.bxp([dict(whislo=lo, q1=q1, med=med, q3=q3, whishi=hi, fliers=[])], positions=[xc],
                         widths=step * 0.93, patch_artist=True, showcaps=False, showfliers=False,
                         manage_ticks=False, zorder=3,
                         whiskerprops=dict(color='#a8a8a8' if style == 'dot' else '#bdbdbd',
                                           lw=0.9 if style == 'dot' else 1.2),
                         medianprops=dict(color='#333333', lw=1.1))
            box = res['boxes'][0]
            box.set_facecolor(colors[g])
            box.set_alpha(0.86)
            box.set_edgecolor('#888888' if style == 'dot' else colors[g])
            box.set_linewidth(0.6)

    # * the dashes sit under the boxes, they only show through
    for c in cutoffs:
        ax.axhline(c, color='black', lw=1.2, dashes=(4.5, 3.5), zorder=2.5)

    ax.set_xlim(-0.6, 6.6)
    ax.set_ylim(ybottom, 15)
    ax.set_yticks([-10, -5, 0, 5, 10, 15])
    ax.set_xticks(range(len(participants)))
    ax.spines['top'].set_visible(False)
    ax.spines['right'].set_visible(False)
    ax.spines['left'].set_linewidth(1.2)
    ax.spines['bottom'].set_linewidth(1.2)
    ax.tick_params(axis='y', labelsize=9.3, labelcolor='#4d4d4d', length=2.5, width=0.8, pad=ypad)
    ax.tick_params(axis='x', labelsize=9.3, labelcolor=label_color, length=2.5, width=0.8, pad=xpad)
    ax.set_xticklabels(participants, rotation=60, ha='center', va='top')


ax_a = make_axes(77, 733.7, 81, 391.7)
draw_panel(ax_a, a_boxes, a_points, a_groups, antibody_colors, 0.036, 'dot', -12.74, '#444444', 4, 3)

ax_b = make_axes(91.7, 748, 577.7, 888.3)
draw_panel(ax_b, b_boxes, b_points, b_groups, tissue_colors, 0.052, 'ring', -12.64, '#666666', 4.5, 3.5)

# * overlay in pixels for the legends and the outer labels
ov = fig.add_axes([0, 0, 1, 1])
ov.set_xlim(0, W)
ov.set_ylim(H, 0)
ov.axis('off')
ov.patch.set_alpha(0)


def legend_key(x, yc, color, alpha=0.95):
    ov.plot([x + 11, x + 11], [yc - 13, yc + 13], color='#b5b5b5', lw=0.9, zorder=1)
    ov.add_patch(plt.Rectangle((x, yc - 7.3), 22, 14.6, facecolor=color, edgecolor='#777777', lw=0.6,
                               alpha=alpha, zorder=2))
    ov.plot([x, x + 22], [yc, yc], color='#444444', lw=0.8, zorder=3)


a_key_x = [200, 200, 301.7, 301.7, 415.3, 415.3, 509.7, 509.7, 623.7]
a_txt_x = [233, 233, 336, 336, 448.7, 448.7, 543.3, 543.3, 657.7]
a_row_y = [13.5, 42.5]
for k, name in enumerate(antibodies):
    y = a_row_y[k % 2]
    legend_key(a_key_x[k], y, antibody_colors[k])
    ov.text(a_txt_x[k], y + 0.5, name, fontsize=9.3, va='center', ha='left', color='#222222')
ov.text(122.7, 28.5, 'Antibody', fontsize=12, va='center', ha='left', color='#222222')

b_key_x = [200, 200, 363.5, 363.5, 505.3, 505.3, 660.3, 660.3]
b_txt_x = [234, 234, 397.3, 397.3, 538.7, 538.7, 694, 694]
b_row_y = [509.8, 538.6]
for k, name in enumerate(tissues):
    y = b_row_y[k % 2]
    legend_key(b_key_x[k], y, tissue_colors[k])
    ov.text(b_txt_x[k], y + 0.5, name, fontsize=9.2, va='center', ha='left', color='#222222')
ov.text(92.3, 525, 'Tissue.group', fontsize=12, va='center', ha='left', color='#222222')

ov.text(3, 37, 'A', fontsize=18, fontweight='bold', family='Liberation Sans', va='baseline', ha='left')
ov.text(13, 533.5, 'B', fontsize=18, fontweight='bold', family='Open Sans', va='baseline', ha='left')

ov.text(38, 235.5, 'log2(IC50)', fontsize=12, rotation=90, va='center', ha='center', color='#222222')
ov.text(52, 733, 'log2(IC50)', fontsize=12, rotation=90, va='center', ha='center', color='#222222')
ov.text(408.5, 456, 'Participant', fontsize=14.2, va='center', ha='center', color='#111111')
ov.text(416, 952, 'Participant', fontsize=14.2, va='center', ha='center', color='#111111')

fig.savefig('out.png', dpi=100)
